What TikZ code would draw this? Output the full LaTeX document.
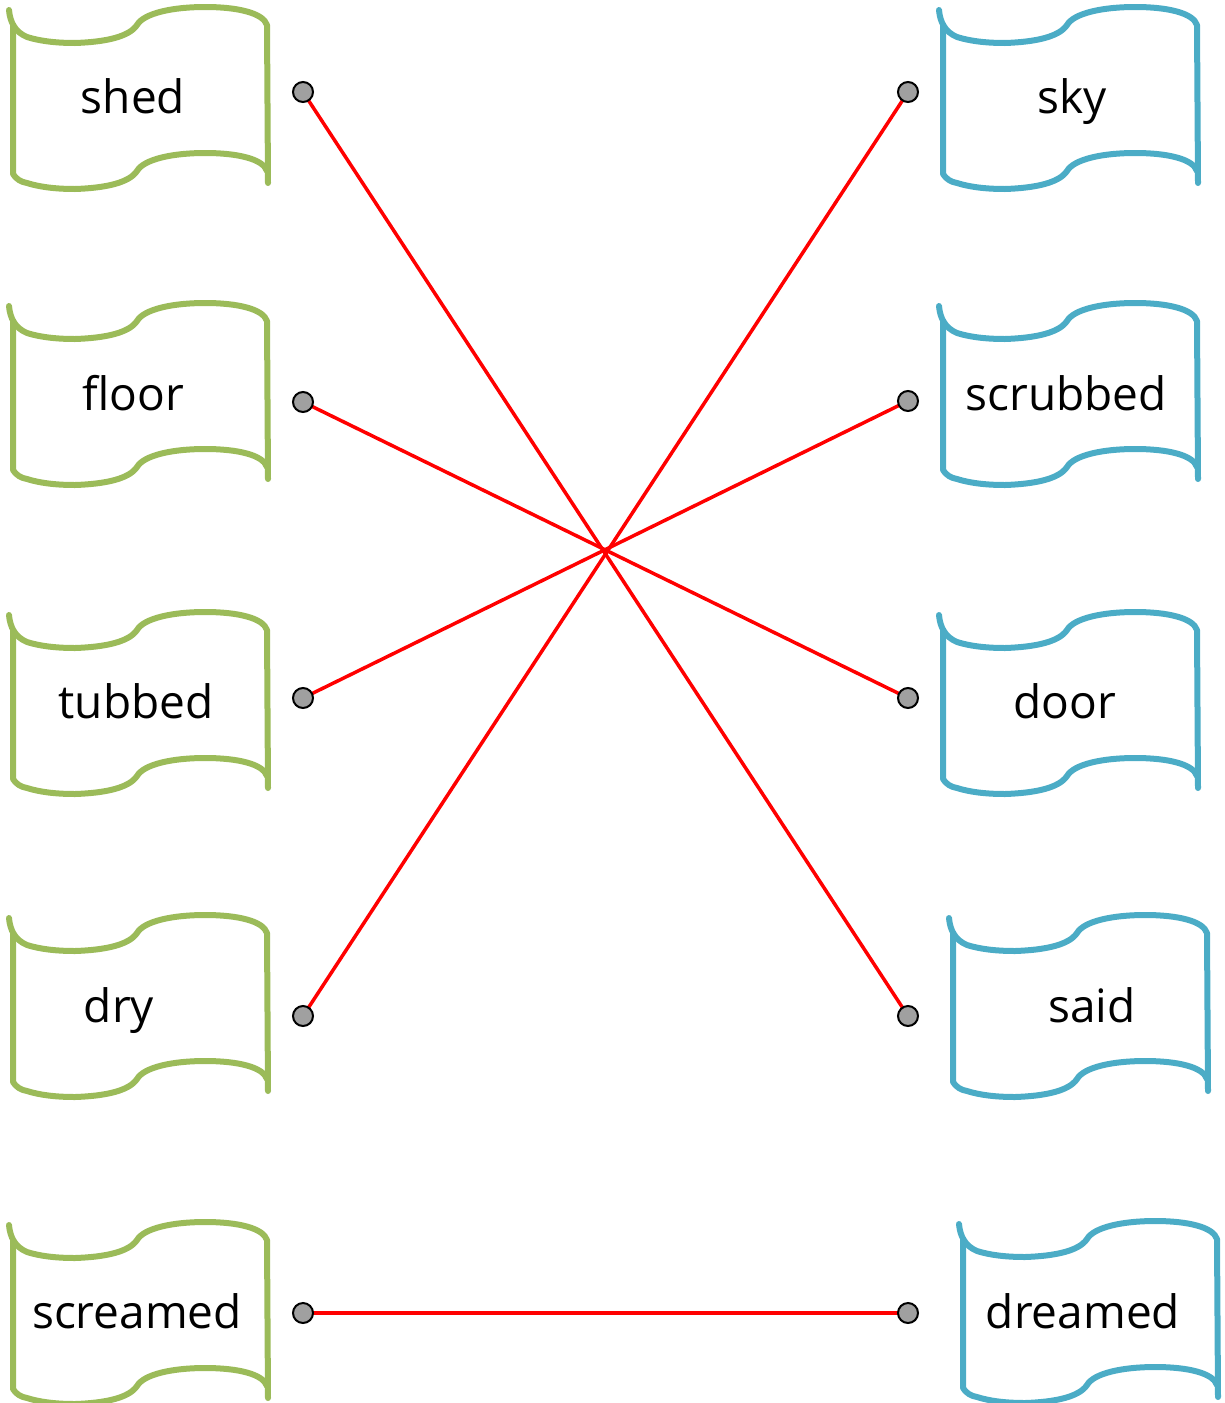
\documentclass[tikz,border=0pt]{standalone}
\usepackage{fontspec}
\setmainfont{Open Sans}
\definecolor{flaggreen}{HTML}{9BBB59}
\definecolor{flagblue}{HTML}{4BACC6}
\definecolor{dotgray}{HTML}{A0A0A0}
\tikzset{
  flagline/.style={line width=6pt, line join=round, line cap=round},
  flagpic/.pic={
    \draw[flagline] (-4,3) .. controls (-3,15) and (2,25) .. (14,30)
      .. controls (30,35) and (48,36) .. (62,36)
      .. controls (92,35) and (116,30) .. (124,18)
      .. controls (131,6) and (160,0) .. (192,0)
      .. controls (225,0) and (250,6) .. (254,18) -- (255,176);
    \draw[flagline] (0,19) -- (0,167) .. controls (3,172) and (8,175) .. (14,176)
      .. controls (30,181) and (48,182) .. (62,182)
      .. controls (92,181) and (116,176) .. (124,164)
      .. controls (131,152) and (160,146) .. (192,146)
      .. controls (225,146) and (250,152) .. (254,164);
  },
  word/.style={anchor=base, inner sep=0pt, font=\fontsize{46}{55}\selectfont},
  dot/.style={circle, draw=black, line width=2pt, fill=dotgray, minimum size=20pt, inner sep=0pt},
  link/.style={red, line width=3.5pt}
}
\begin{document}
\begin{tikzpicture}[x=1pt, y=-1pt]
\useasboundingbox (0,0) rectangle (1224,1403);
% flags left
\pic[color=flaggreen] at (13,7) {flagpic};
\pic[color=flaggreen] at (13,303) {flagpic};
\pic[color=flaggreen] at (13,612) {flagpic};
\pic[color=flaggreen] at (13,915) {flagpic};
\pic[color=flaggreen] at (13,1222) {flagpic};
% flags right
\pic[color=flagblue] at (943,7) {flagpic};
\pic[color=flagblue] at (943,303) {flagpic};
\pic[color=flagblue] at (943,612) {flagpic};
\pic[color=flagblue] at (953,915) {flagpic};
\pic[color=flagblue] at (963,1221) {flagpic};
% words
\node[word] (wshed) at (133,113) {shed};
\node[word] (wfloor) at (133,410) {floor};
\node[word] (wtubbed) at (136,718) {tubbed};
\node[word] (wdry) at (119,1022) {dry};
\node[word] (wscreamed) at (137,1328) {screamed};
\node[word] (wsky) at (1072,113) {sky};
\node[word] (wscrubbed) at (1066,410) {scrubbed};
\node[word] (wdoor) at (1065,718) {door};
\node[word] (wsaid) at (1092,1022) {said};
\node[word] (wdreamed) at (1083,1328) {dreamed};
% dot positions, links, then dots on top
\coordinate (cL1) at (303,92);
\coordinate (cL2) at (303,402);
\coordinate (cL3) at (303,698);
\coordinate (cL4) at (303,1016);
\coordinate (cL5) at (303,1313);
\coordinate (cR1) at (908,92);
\coordinate (cR2) at (908,401);
\coordinate (cR3) at (908,698);
\coordinate (cR4) at (908,1016);
\coordinate (cR5) at (908,1313);
\draw[link] (cL1) -- (cR4);
\draw[link] (cL2) -- (cR3);
\draw[link] (cL3) -- (cR2);
\draw[link] (cL4) -- (cR1);
\draw[link] (cL5) -- (cR5);
\node[dot] (L1) at (cL1) {};
\node[dot] (L2) at (cL2) {};
\node[dot] (L3) at (cL3) {};
\node[dot] (L4) at (cL4) {};
\node[dot] (L5) at (cL5) {};
\node[dot] (R1) at (cR1) {};
\node[dot] (R2) at (cR2) {};
\node[dot] (R3) at (cR3) {};
\node[dot] (R4) at (cR4) {};
\node[dot] (R5) at (cR5) {};
\end{tikzpicture}
\end{document}
